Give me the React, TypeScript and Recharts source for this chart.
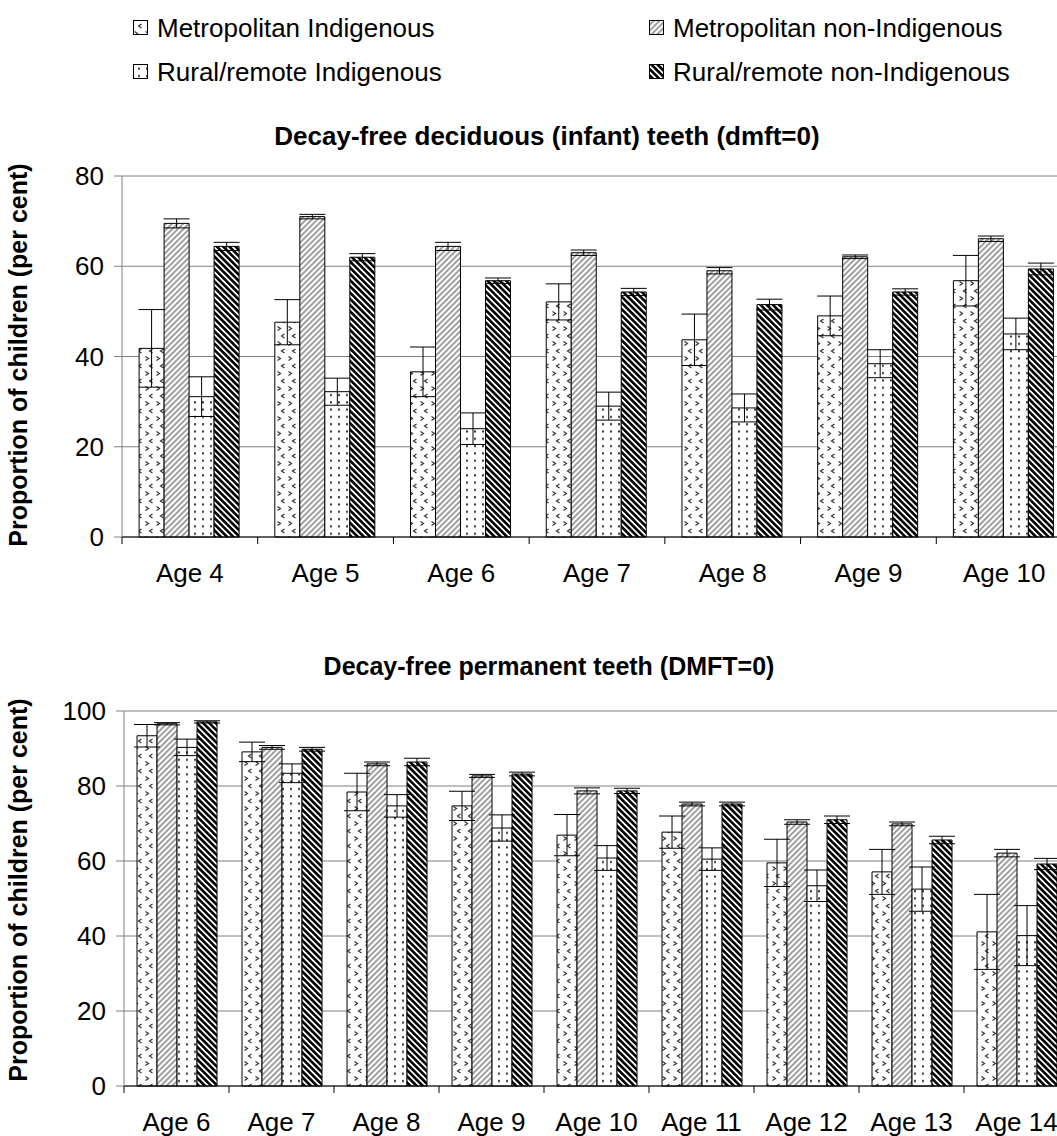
import React from 'react';
import { BarChart, Bar, XAxis, YAxis, CartesianGrid, ErrorBar } from 'recharts';

// deciduous teeth, ages 4-10
const topAges = ['Age 4', 'Age 5', 'Age 6', 'Age 7', 'Age 8', 'Age 9', 'Age 10'];
const topMetInd = [41.8, 47.6, 36.6, 52.1, 43.7, 49.0, 56.8];
const topMetIndErr = [8.6, 5.0, 5.5, 4.0, 5.7, 4.4, 5.6];
const topMetNon = [69.5, 71.0, 64.4, 63.0, 59.0, 62.1, 66.1];
const topMetNonErr = [1.0, 0.5, 0.9, 0.6, 0.7, 0.4, 0.6];
const topRurInd = [31.1, 32.2, 24.0, 29.0, 28.6, 38.4, 45.0];
const topRurIndErr = [4.4, 3.0, 3.5, 3.1, 3.1, 3.1, 3.5];
const topRurNon = [64.4, 62.0, 56.8, 54.3, 51.5, 54.3, 59.4];
const topRurNonErr = [0.9, 0.8, 0.6, 0.8, 1.2, 0.7, 1.3];
const topTicks = [0, 20, 40, 60, 80];

// permanent teeth, ages 6-14
const botAges = ['Age 6', 'Age 7', 'Age 8', 'Age 9', 'Age 10', 'Age 11', 'Age 12', 'Age 13', 'Age 14'];
const botMetInd = [93.4, 89.1, 78.4, 74.7, 66.9, 67.7, 59.5, 57.1, 41.1];
const botMetIndErr = [3.0, 2.6, 5.0, 3.9, 5.5, 4.3, 6.3, 6.0, 10.0];
const botMetNon = [96.6, 90.3, 85.9, 82.7, 78.7, 75.2, 70.4, 69.9, 62.1];
const botMetNonErr = [0.3, 0.5, 0.5, 0.4, 0.8, 0.5, 0.6, 0.5, 1.0];
const botRurInd = [90.3, 83.4, 74.7, 68.8, 60.8, 60.5, 53.4, 52.5, 40.1];
const botRurIndErr = [2.2, 2.5, 3.0, 3.5, 3.3, 3.0, 4.2, 5.9, 8.0];
const botRurNon = [97.1, 89.8, 86.4, 83.2, 78.7, 75.2, 71.0, 65.6, 59.2];
const botRurNonErr = [0.3, 0.5, 1.0, 0.5, 0.7, 0.5, 1.0, 1.0, 1.5];
const botTicks = [0, 20, 40, 60, 80, 100];

const seriesNames = [
  'Metropolitan Indigenous',
  'Metropolitan non-Indigenous',
  'Rural/remote Indigenous',
  'Rural/remote non-Indigenous',
];
const fills = ['url(#pMI)', 'url(#pMN)', 'url(#pRI)', 'url(#pRN)'];

const FONT = '"Liberation Sans", Arial, sans-serif';
const CHART_W = 1080;

function buildRows(ages: string[], a: number[], ae: number[], b: number[], be: number[], c: number[], ce: number[], d: number[], de: number[]) {
  return ages.map((age, i) => ({
    age,
    mi: a[i], miErr: ae[i],
    mn: b[i], mnErr: be[i],
    ri: c[i], riErr: ce[i],
    rn: d[i], rnErr: de[i],
  }));
}

const topData = buildRows(topAges, topMetInd, topMetIndErr, topMetNon, topMetNonErr, topRurInd, topRurIndErr, topRurNon, topRurNonErr);
const botData = buildRows(botAges, botMetInd, botMetIndErr, botMetNon, botMetNonErr, botRurInd, botRurIndErr, botRurNon, botRurNonErr);

function makeAgeTick(band: number, count: number) {
  return function AgeTick(props: any) {
    const { x, y, payload, index } = props;
    return (
      <g>
        <line x1={x - band / 2} x2={x - band / 2} y1={y} y2={y + 7} stroke="#000" />
        {index === count - 1 && <line x1={x + band / 2} x2={x + band / 2} y1={y} y2={y + 7} stroke="#000" />}
        <text x={x} y={y + 45} textAnchor="middle" fontSize={26} fontFamily={FONT} fill="#000">
          {payload.value}
        </text>
      </g>
    );
  };
}

function Patterns() {
  return (
    <svg width={0} height={0} style={{ position: 'absolute' }}>
      <defs>
        <pattern id="pMI" patternUnits="userSpaceOnUse" width={11} height={15}>
          <rect width={11} height={15} fill="#fff" />
          <polyline points="2.5,1.5 5.5,3.5 2.5,5.5" fill="none" stroke="#333" strokeWidth={1.2} />
          <polyline points="9.5,9 6.5,11 9.5,13" fill="none" stroke="#333" strokeWidth={1.2} />
        </pattern>
        <pattern id="pMN" patternUnits="userSpaceOnUse" width={4} height={4} patternTransform="rotate(45)">
          <rect width={4} height={4} fill="#fff" />
          <rect width={2} height={4} fill="#a0a0a0" />
        </pattern>
        <pattern id="pRI" patternUnits="userSpaceOnUse" width={8} height={7.3}>
          <rect width={8} height={7.3} fill="#fff" />
          <rect x={2} y={2} width={2} height={2} fill="#333" />
        </pattern>
        <pattern id="pRN" patternUnits="userSpaceOnUse" width={4.4} height={4.4} patternTransform="rotate(-45)">
          <rect width={4.4} height={4.4} fill="#fff" />
          <rect width={2.6} height={4.4} fill="#000" />
        </pattern>
      </defs>
    </svg>
  );
}

type PanelProps = {
  data: any[];
  height: number;
  top: number;
  margin: { top: number; right: number; bottom: number; left: number };
  ticks: number[];
  gap: string;
};

function Panel({ data, height, top, margin, ticks, gap }: PanelProps) {
  const band = (CHART_W - margin.left - 60 - margin.right) / data.length;
  const AgeTick = makeAgeTick(band, data.length);
  const keys = ['mi', 'mn', 'ri', 'rn'];
  return (
    <div style={{ position: 'absolute', left: 0, top }}>
      <BarChart width={CHART_W} height={height} data={data} margin={margin} barGap={0} barCategoryGap={gap}>
        <CartesianGrid vertical={false} stroke="#808080" />
        <XAxis
          dataKey="age"
          height={50}
          tickSize={0}
          tickMargin={0}
          tick={<AgeTick />}
          axisLine={{ stroke: '#000' }}
          interval={0}
        />
        <YAxis
          width={60}
          domain={[ticks[0], ticks[ticks.length - 1]]}
          ticks={ticks}
          interval={0}
          tickSize={8}
          tickMargin={10}
          tick={{ fontSize: 26, fill: '#000', fontFamily: FONT }}
          tickLine={{ stroke: '#808080' }}
          axisLine={{ stroke: '#808080' }}
        />
        {keys.map((k, i) => (
          <Bar key={k} dataKey={k} name={seriesNames[i]} fill={fills[i]} stroke="#000" strokeWidth={1} isAnimationActive={false}>
            <ErrorBar dataKey={`${k}Err`} width={13} stroke="#000" strokeWidth={1} direction="y" isAnimationActive={false} />
          </Bar>
        ))}
      </BarChart>
    </div>
  );
}

function Overlay() {
  const legendPos = [
    { x: 133, y: 20 },
    { x: 649, y: 20 },
    { x: 133, y: 64 },
    { x: 649, y: 64 },
  ];
  return (
    <svg width={1057} height={1136} style={{ position: 'absolute', left: 0, top: 0, pointerEvents: 'none' }} fontFamily={FONT}>
      {seriesNames.map((name, i) => (
        <g key={name}>
          <rect x={legendPos[i].x + 0.5} y={legendPos[i].y + 0.5} width={14} height={14} fill={fills[i]} stroke="#000" />
          <text x={legendPos[i].x + 24} y={legendPos[i].y + 17} fontSize={26} fill="#000">
            {name}
          </text>
        </g>
      ))}
      <text x={547} y={145} textAnchor="middle" fontSize={26} fontWeight="bold" fill="#000">
        Decay-free deciduous (infant) teeth (dmft=0)
      </text>
      <text x={549} y={675} textAnchor="middle" fontSize={25} fontWeight="bold" fill="#000">
        Decay-free permanent teeth (DMFT=0)
      </text>
      <text transform="translate(27,355) rotate(-90)" textAnchor="middle" fontSize={25} fontWeight="bold" fill="#000">
        Proportion of children (per cent)
      </text>
      <text transform="translate(27,890) rotate(-90)" textAnchor="middle" fontSize={25} fontWeight="bold" fill="#000">
        Proportion of children (per cent)
      </text>
    </svg>
  );
}

export default function App() {
  return (
    <div
      style={{
        position: 'absolute',
        left: 0,
        top: 0,
        width: 1057,
        height: 1136,
        overflow: 'hidden',
        background: '#fff',
        fontFamily: FONT,
      }}
    >
      <Patterns />
      <Panel data={topData} height={520} top={100} margin={{ top: 76, right: 8, bottom: 33, left: 62 }} ticks={topTicks} gap="12.6%" />
      <Panel data={botData} height={496} top={640} margin={{ top: 71, right: 11, bottom: 0, left: 64 }} ticks={botTicks} gap="12.4%" />
      <Overlay />
    </div>
  );
}
